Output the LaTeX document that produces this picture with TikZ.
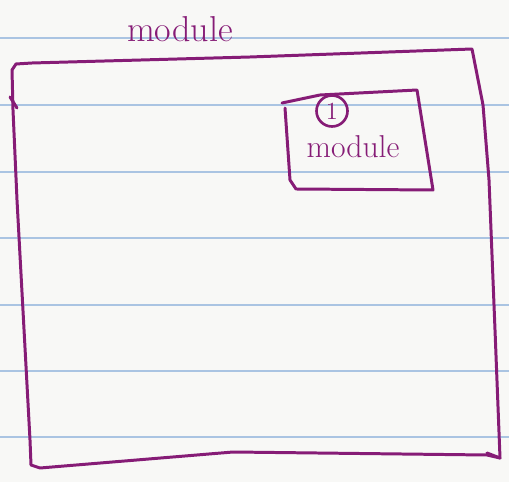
\documentclass[tikz,border=0pt]{standalone}

\definecolor{inkpurple}{RGB}{134,28,118}
\definecolor{ruleblue}{RGB}{170,196,226}
\definecolor{paper}{RGB}{248,248,246}

\newcommand*{\pgw}{509}
\newcommand*{\pgh}{482}

\begin{document}
\begin{tikzpicture}
[
	x=0.02cm,
	y=-0.02cm,
	ink/.style={draw=inkpurple,line width=1.7pt,line join=round,line cap=round},
	rule/.style={draw=ruleblue,line width=1.1pt},
	hand/.style={text=inkpurple,inner sep=0pt},
	numring/.style={circle,draw=inkpurple,line width=1.5pt,inner sep=0pt,minimum size=0.62cm,text=inkpurple}
]

	% paper
	\fill[paper] (0,0) rectangle (\pgw,\pgh);
	\useasboundingbox (0,0) rectangle (\pgw,\pgh);

	% ruled lines
	\foreach \y in {38,105,172,238,305,371,437} {
		\draw[rule] (0,\y) -- (\pgw,\y);
	}

	% outer module
	\draw[ink]
	  (12,70) -- (16,64) -- (32,63)
	  -- (250,57) -- (472,49)
	  -- (483,105) -- (489,180) -- (495,330) -- (500,458)
	  -- (487,455) -- (233,452) -- (40,468) -- (31,465)
	  -- (30,440) -- (17,200) -- (13,110) -- cycle;
	\draw[ink] (10,97) -- (17,108);
	\draw[ink] (487,453) -- (500,458);
	\node[hand,font=\fontsize{20.5}{22}\selectfont] (title) at (180,29) {module};

	% inner module
	\draw[ink]
	  (282,103) -- (320,95) -- (417,90)
	  -- (433,190) -- (296,189) -- (290,180) -- (285,108);
	\node[numring,font=\fontsize{14}{16}\selectfont] (num) at (332,111) {1};
	\node[hand,font=\fontsize{18}{20}\selectfont] (inner) at (353,147) {module};

\end{tikzpicture}
\end{document}
